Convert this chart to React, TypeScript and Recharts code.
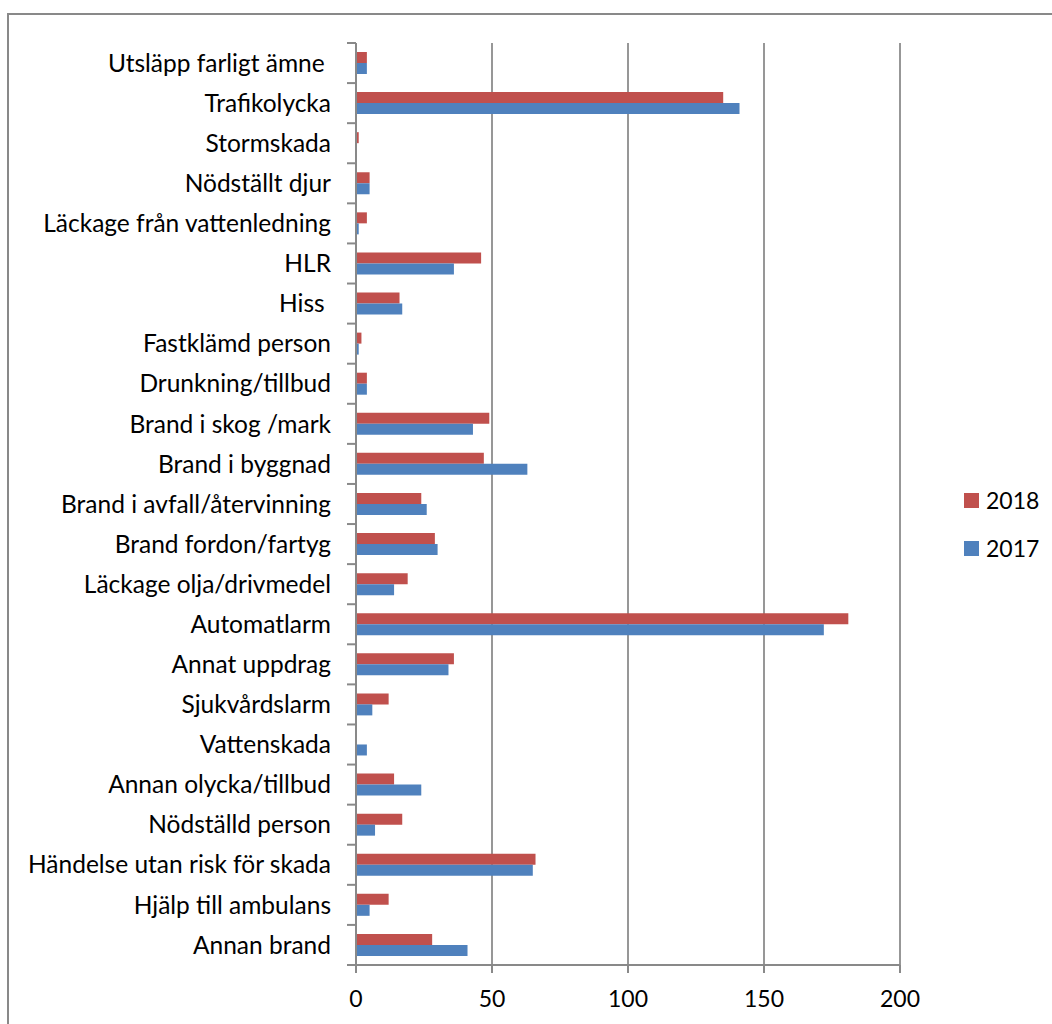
import { Bar, BarChart, CartesianGrid, Legend, XAxis, YAxis } from 'recharts';

// ----------------------------------------------------------------------

const categories = [
  'Utsläpp farligt ämne ',
  'Trafikolycka',
  'Stormskada',
  'Nödställt djur',
  'Läckage från vattenledning',
  'HLR',
  'Hiss ',
  'Fastklämd person',
  'Drunkning/tillbud',
  'Brand i skog /mark',
  'Brand i byggnad',
  'Brand i avfall/återvinning',
  'Brand fordon/fartyg',
  'Läckage olja/drivmedel',
  'Automatlarm',
  'Annat uppdrag',
  'Sjukvårdslarm',
  'Vattenskada',
  'Annan olycka/tillbud',
  'Nödställd person',
  'Händelse utan risk för skada',
  'Hjälp till ambulans',
  'Annan brand',
];

const values2018 = [4, 135, 1, 5, 4, 46, 16, 2, 4, 49, 47, 24, 29, 19, 181, 36, 12, 0, 14, 17, 66, 12, 28];
const values2017 = [4, 141, 0, 5, 1, 36, 17, 1, 4, 43, 63, 26, 30, 14, 172, 34, 6, 4, 24, 7, 65, 5, 41];

const xTicks = [0, 50, 100, 150, 200];
const legendOrder = ['2018', '2017'];

const chartData = categories.map((name, i) => ({ name, y2018: values2018[i], y2017: values2017[i] }));

const WIDTH = 1052;
const HEIGHT = 1024;
const MARGIN = { top: 43, right: 152, bottom: 0, left: 0 };
const X_AXIS_HEIGHT = 59;
const Y_AXIS_WIDTH = 356;
const TICK_SIZE = 9;
const TICK_MARGIN = 16;
const BAND = (HEIGHT - MARGIN.top - MARGIN.bottom - X_AXIS_HEIGHT) / categories.length;

const FONT = 'Lato, "Open Sans", sans-serif';
const AXIS_GRAY = '#898989';
const RED = '#C0504D';
const BLUE = '#4F81BD';

const CategoryTick = (props: any) => {
  const { x, y, payload, index } = props;
  const half = BAND / 2;
  const lx1 = x + TICK_MARGIN;
  const lx2 = lx1 + TICK_SIZE;
  return (
    <g>
      <line stroke={AXIS_GRAY} strokeWidth={2} x1={lx1} x2={lx2} y1={y - half} y2={y - half} />
      {index === categories.length - 1 && (
        <line stroke={AXIS_GRAY} strokeWidth={2} x1={lx1} x2={lx2} y1={y + half} y2={y + half} />
      )}
      <text
        dy='0.355em'
        fill='#000'
        fontFamily={FONT}
        fontSize={24.5}
        style={{ whiteSpace: 'pre' }}
        textAnchor='end'
        x={x}
        y={y}
      >
        {payload.value}
      </text>
    </g>
  );
};

const LegendContent = ({ payload }: any) => {
  const items = [...(payload || [])].sort(
    (a: any, b: any) => legendOrder.indexOf(a.value) - legendOrder.indexOf(b.value)
  );
  return (
    <div style={{ fontFamily: FONT, fontSize: 23, color: '#000' }}>
      {items.map((entry: any) => (
        <div key={entry.value} style={{ alignItems: 'center', display: 'flex', height: 48 }}>
          <span style={{ background: entry.color, display: 'inline-block', height: 15, marginRight: 7, width: 15 }} />
          {entry.value}
        </div>
      ))}
    </div>
  );
};

export default function App() {
  return (
    <div
      style={{
        background: '#fff',
        height: HEIGHT,
        left: 0,
        overflow: 'hidden',
        position: 'fixed',
        top: 0,
        width: WIDTH,
      }}
    >
      <div
        style={{
          borderLeft: `2px solid ${AXIS_GRAY}`,
          borderTop: `2px solid ${AXIS_GRAY}`,
          height: 1100,
          left: 7,
          position: 'absolute',
          top: 13,
          width: 1100,
        }}
      />
      <div style={{ left: 0, position: 'absolute', top: 0 }}>
        <BarChart
          barGap={0}
          data={chartData}
          height={HEIGHT}
          layout='vertical'
          margin={MARGIN}
          width={WIDTH}
        >
          <CartesianGrid horizontal={false} stroke={AXIS_GRAY} strokeWidth={1.75} />
          <XAxis
            axisLine={{ stroke: AXIS_GRAY, strokeWidth: 2 }}
            domain={[0, 200]}
            height={X_AXIS_HEIGHT}
            tick={{ fill: '#000', fontFamily: FONT, fontSize: 23 }}
            tickLine={{ stroke: AXIS_GRAY, strokeWidth: 2 }}
            tickMargin={18}
            tickSize={8}
            ticks={xTicks}
            type='number'
          />
          <YAxis
            axisLine={{ stroke: AXIS_GRAY, strokeWidth: 2 }}
            dataKey='name'
            interval={0}
            tick={<CategoryTick />}
            tickLine={false}
            tickMargin={TICK_MARGIN}
            tickSize={TICK_SIZE}
            type='category'
            width={Y_AXIS_WIDTH}
          />
          <Legend
            align='center'
            content={<LegendContent />}
            layout='vertical'
            verticalAlign='middle'
            wrapperStyle={{ left: 964, top: 476, width: 'auto' }}
          />
          <Bar barSize={11} dataKey='y2018' fill={RED} isAnimationActive={false} name='2018' />
          <Bar barSize={11} dataKey='y2017' fill={BLUE} isAnimationActive={false} name='2017' />
        </BarChart>
      </div>
    </div>
  );
}
